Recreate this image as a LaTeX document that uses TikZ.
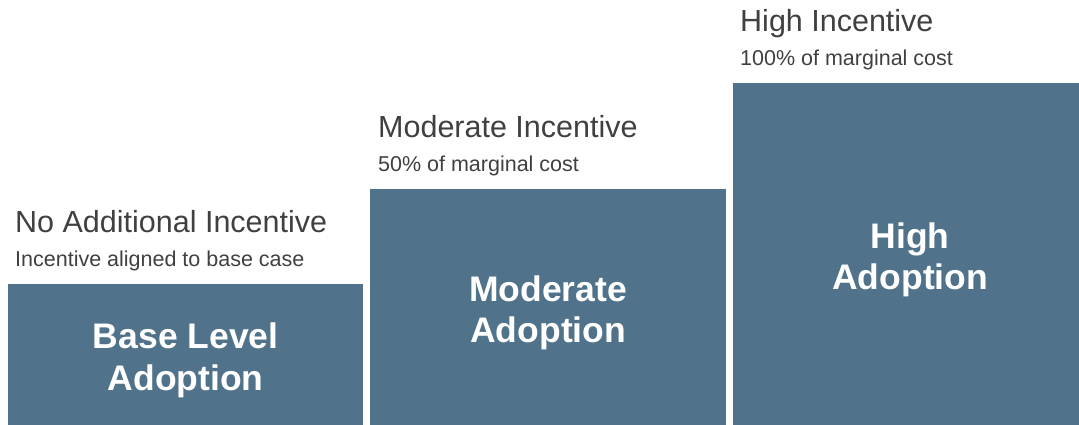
\documentclass[tikz,border=0pt]{standalone}
\usepackage{fontspec}
\setmainfont{Liberation Sans}
\usetikzlibrary{positioning,calc}
\definecolor{barblue}{RGB}{80,115,139}
\definecolor{labelgray}{RGB}{64,64,64}

\begin{document}
\begin{tikzpicture}[x=1pt,y=1pt,
  bar/.style={fill=barblue, draw=none, anchor=south west, inner sep=0pt},
  barlabel/.style={text=white, align=center, inner sep=0pt,
    font=\fontsize{35.5}{41.5}\selectfont\bfseries},
  headline/.style={anchor=base west, inner sep=0pt, text=labelgray,
    font=\fontsize{30.5}{36}\selectfont},
  subline/.style={anchor=base west, inner sep=0pt, text=labelgray,
    font=\fontsize{21.5}{26}\selectfont}]
\useasboundingbox (0,0) rectangle (1079,425);

% bars, rising from left to right
\node[bar, minimum width=355pt, minimum height=141pt] (base) at (8,0) {};
\node[bar, minimum width=356pt, minimum height=236pt] (moderate) at (370,0) {};
\node[bar, minimum width=346pt, minimum height=342pt] (high) at (733,0) {};

% adoption level inside each bar
\node[barlabel] (baseLabel) at ($(base.center)+(0,-6)$) {Base Level\\Adoption};
\node[barlabel] (moderateLabel) at ($(moderate.center)+(0,-6)$) {Moderate\\Adoption};
\node[barlabel] (highLabel) at ($(high.center)+(4,-6)$) {High\\Adoption};

% incentive level above each bar
\node[headline] (baseHead) at ($(base.north west)+(7,51)$) {No Additional Incentive};
\node[subline] (baseSub) at ($(base.north west)+(7,17)$) {Incentive aligned to base case};

\node[headline] (moderateHead) at ($(moderate.north west)+(8,51)$) {Moderate Incentive};
\node[subline] (moderateSub) at ($(moderate.north west)+(8,17)$) {50\% of marginal cost};

\node[headline] (highHead) at ($(high.north west)+(7,51)$) {High Incentive};
\node[subline] (highSub) at ($(high.north west)+(7,17)$) {100\% of marginal cost};
\end{tikzpicture}
\end{document}
